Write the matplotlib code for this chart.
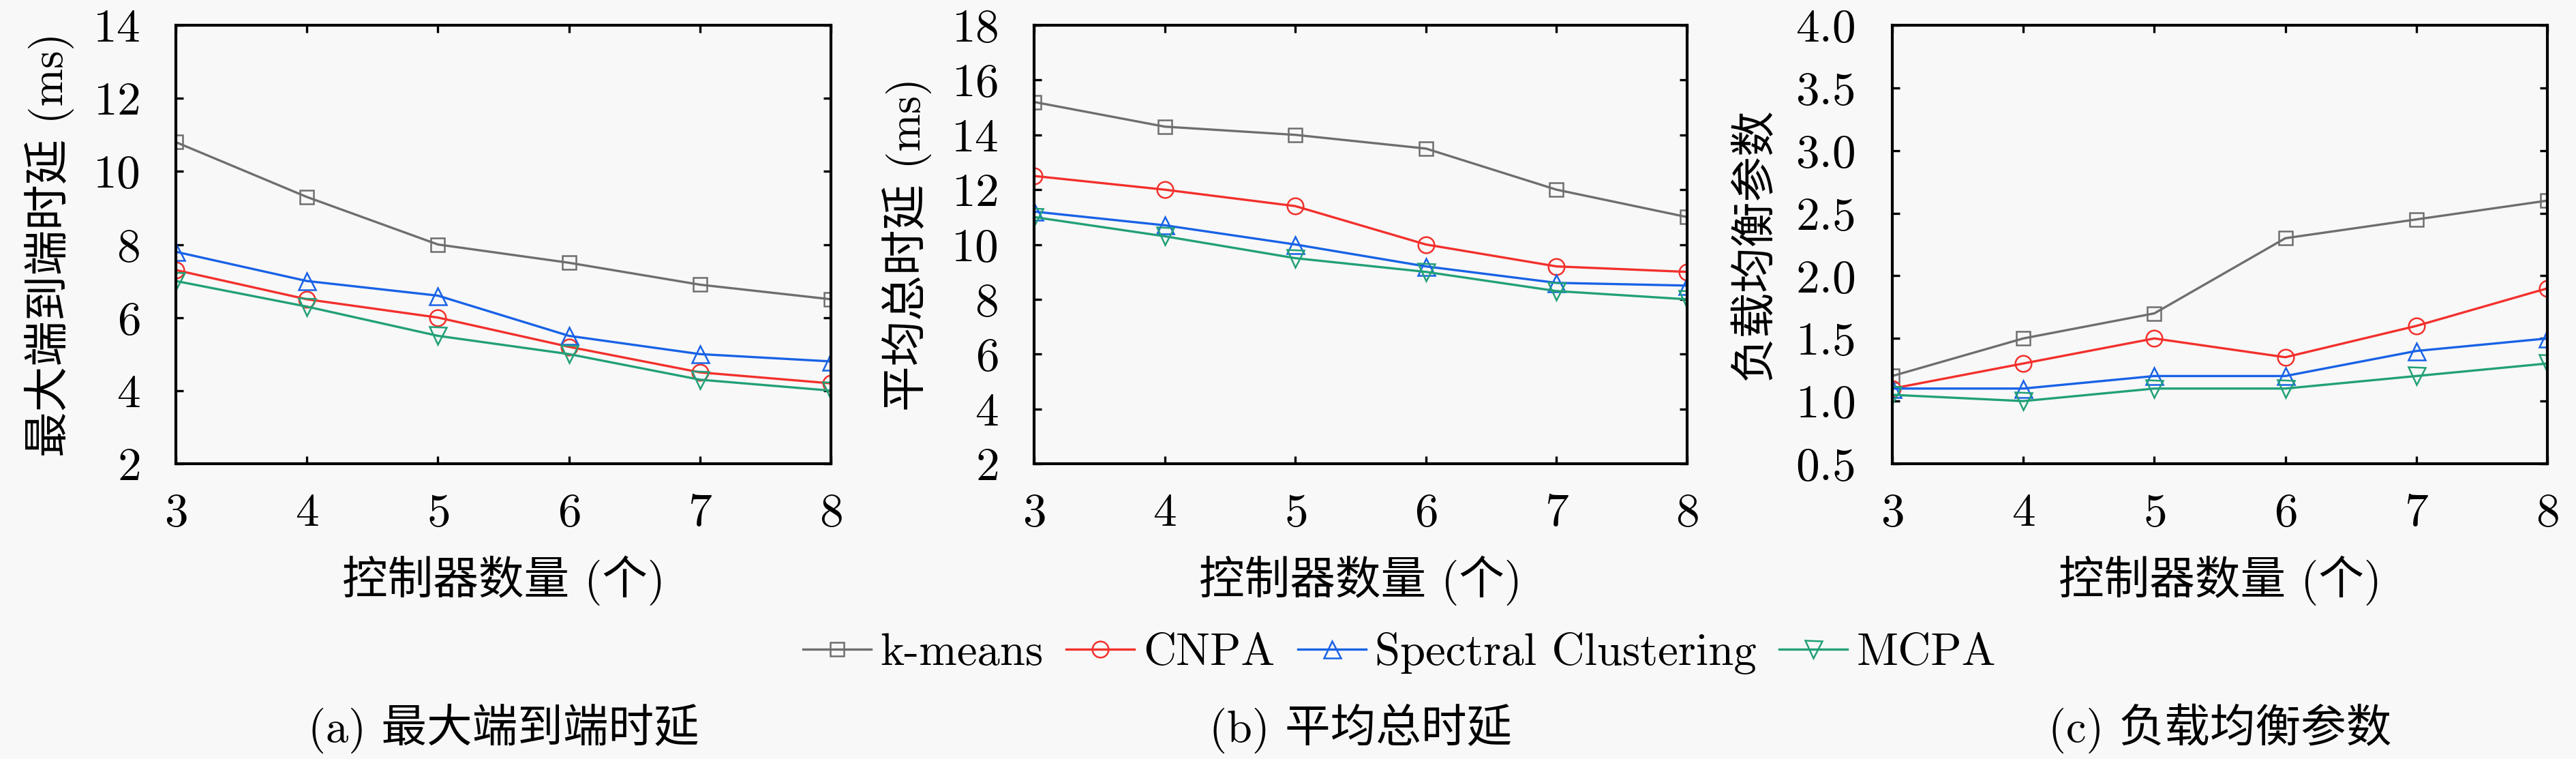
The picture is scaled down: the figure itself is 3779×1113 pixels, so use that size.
import matplotlib
matplotlib.use('Agg')
import matplotlib.pyplot as plt

plt.rcParams['font.family'] = ['cmr10', 'Noto Sans CJK SC', 'DejaVu Sans']
plt.rcParams['axes.formatter.use_mathtext'] = True
plt.rcParams['axes.unicode_minus'] = False

controllers = [3, 4, 5, 6, 7, 8]
methods = ['k-means', 'CNPA', 'Spectral Clustering', 'MCPA']

# (a) max end-to-end delay (ms)
max_delay = {
    'k-means': [10.8, 9.3, 8.0, 7.5, 6.9, 6.5],
    'CNPA': [7.3, 6.5, 6.0, 5.2, 4.5, 4.2],
    'Spectral Clustering': [7.8, 7.0, 6.6, 5.5, 5.0, 4.8],
    'MCPA': [7.0, 6.3, 5.5, 5.0, 4.3, 4.0],
}
# (b) average total delay (ms)
avg_delay = {
    'k-means': [15.2, 14.3, 14.0, 13.5, 12.0, 11.0],
    'CNPA': [12.5, 12.0, 11.4, 10.0, 9.2, 9.0],
    'Spectral Clustering': [11.2, 10.7, 10.0, 9.2, 8.6, 8.5],
    'MCPA': [11.0, 10.3, 9.5, 9.0, 8.3, 8.0],
}
# (c) load balance parameter
load_balance = {
    'k-means': [1.2, 1.5, 1.7, 2.3, 2.45, 2.6],
    'CNPA': [1.1, 1.3, 1.5, 1.35, 1.6, 1.9],
    'Spectral Clustering': [1.1, 1.1, 1.2, 1.2, 1.4, 1.5],
    'MCPA': [1.05, 1.0, 1.1, 1.1, 1.2, 1.3],
}

colors = {'k-means': '#6e6e6e', 'CNPA': '#f2302c',
          'Spectral Clustering': '#1862e6', 'MCPA': '#22a078'}
markers = {'k-means': ('s', 14), 'CNPA': ('o', 17),
           'Spectral Clustering': ('^', 18), 'MCPA': ('v', 18)}

bg = '#f8f8f8'
fig = plt.figure(figsize=(37.8, 11.13), dpi=100, facecolor=bg)

panels = [
    (max_delay, '最大端到端时延 (ms)', (2, 14), range(2, 15, 2), '(a) 最大端到端时延', 258, 961, -0.193),
    (avg_delay, '平均总时延 (ms)', (2, 18), range(2, 19, 2), '(b) 平均总时延', 1517, 958, -0.195),
    (load_balance, '负载均衡参数', (0.5, 4.0), [0.5, 1.0, 1.5, 2.0, 2.5, 3.0, 3.5, 4.0], '(c) 负载均衡参数', 2776, 961, -0.21),
]

W, H = 3780, 1113
ax_top, ax_bot = 37, 680
handles = []
for data, ylab, ylim, yticks, caption, left, width, ylx in panels:
    ax = fig.add_axes([left / W, 1 - ax_bot / H, width / W, (ax_bot - ax_top) / H])
    ax.set_facecolor(bg)
    handles = []
    for m in methods:
        mk, ms = markers[m]
        h, = ax.plot(controllers, data[m], color=colors[m], lw=2.4, marker=mk,
                     ms=ms, mfc='none', mew=1.8, label=m)
        handles.append(h)
    ax.set_xlim(3, 8)
    ax.set_ylim(*ylim)
    ax.set_xticks(controllers)
    ax.set_yticks(list(yticks))
    if ylim[0] < 1:
        ax.set_yticklabels([f'{v:.1f}' for v in yticks])
    ax.tick_params(direction='in', top=True, right=True, length=8, width=2.4,
                   labelsize=50)
    ax.tick_params(axis='x', pad=31)
    ax.tick_params(axis='y', pad=38)
    for s in ax.spines.values():
        s.set_linewidth(3)
    ax.set_xlabel('控制器数量 (个)', fontsize=48)
    ax.xaxis.set_label_coords(0.5, -0.267)
    ax.xaxis.label.set_va('center')
    ax.set_ylabel(ylab, fontsize=48)
    ax.yaxis.set_label_coords(ylx, 0.5)
    ax.yaxis.label.set_va('center')
    fig.text((left + width / 2) / W, 1 - 1068 / H, caption, fontsize=48,
             ha='center', va='center')

fig.legend(handles, methods, loc='center', bbox_to_anchor=(2053 / W, 1 - 958 / H),
           ncol=4, frameon=False, fontsize=48, handlelength=1.5,
           handletextpad=0.2, columnspacing=0.5)

fig.savefig('out.png', dpi=100, facecolor=bg)
